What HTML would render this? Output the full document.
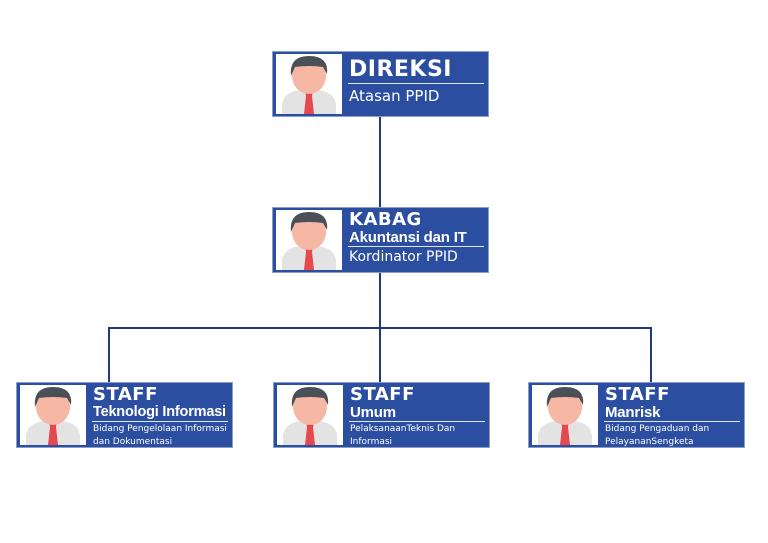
<!DOCTYPE html>
<html><head><style>
body{margin:0;width:768px;height:543px;background:#fff;position:relative;overflow:hidden;font-family:"DejaVu Sans","Liberation Sans",sans-serif}
.b{position:absolute;width:215px;height:64px;background:#2b4ea0;border:1px solid #8a9cc8;}
.ph{position:absolute;left:3px;top:2px;width:66px;height:60px;background:#fff}
.t{position:absolute;left:76px;color:#fff;white-space:nowrap}
.h{font-weight:bold;font-size:20px;top:3px;letter-spacing:0.5px}
.s{font-family:"Liberation Sans",sans-serif;font-weight:bold;font-size:15px;letter-spacing:-0.2px}
.ln{position:absolute;left:75px;right:4px;height:1px;background:#dfe6f5}
.l{position:absolute;background:#1e3a7a}
</style></head><body>
<svg width="0" height="0" style="position:absolute"><defs>
<symbol id="av" viewBox="0 0 66 60">
<path d="M6 60 L6 50 Q8 38 24 36 L42 36 Q58 38 60 50 L60 60Z" fill="#e3e3e3"/>
<path d="M29 37 L37 37 L36 42 L38 60 L28 60 L30 42Z" fill="#e5484d"/>
<ellipse cx="33" cy="22" rx="17" ry="18" fill="#f6b8a4"/>
<path d="M15 22 Q13 2 33 2 Q53 2 51 20 L47 13 Q33 11 19 13 Z" fill="#4a4f58"/>
</symbol></defs></svg>

<div class="l" style="left:379px;top:117px;width:2px;height:91px"></div>
<div class="l" style="left:379px;top:272px;width:2px;height:110px"></div>
<div class="l" style="left:108px;top:327px;width:544px;height:2px"></div>
<div class="l" style="left:108px;top:327px;width:2px;height:55px"></div>
<div class="l" style="left:650px;top:327px;width:2px;height:55px"></div>

<div class="b" style="left:272px;top:51px">
<svg class="ph" viewBox="0 0 66 60"><use href="#av"/></svg>
<div class="t h" style="top:5px;font-size:22px">DIREKSI</div><div class="ln" style="top:31px"></div>
<div class="t" style="top:35px;font-size:15px">Atasan PPID</div></div>

<div class="b" style="left:272px;top:207px">
<svg class="ph" viewBox="0 0 66 60"><use href="#av"/></svg>
<div class="t h" style="top:1px;font-size:18px">KABAG</div>
<div class="t s" style="top:21px">Akuntansi dan IT</div><div class="ln" style="top:38px"></div>
<div class="t" style="top:41px;font-size:14px">Kordinator PPID</div></div>

<div class="b" style="left:16px;top:382px">
<svg class="ph" viewBox="0 0 66 60"><use href="#av"/></svg>
<div class="t h" style="top:1px;font-size:18px">STAFF</div>
<div class="t s" style="top:21px;font-size:14.5px">Teknologi Informasi</div><div class="ln" style="top:38px"></div>
<div class="t" style="top:40px;font-size:9px;line-height:13px">Bidang Pengelolaan Informasi<br>dan Dokumentasi</div></div>

<div class="b" style="left:273px;top:382px">
<svg class="ph" viewBox="0 0 66 60"><use href="#av"/></svg>
<div class="t h" style="top:1px;font-size:18px">STAFF</div>
<div class="t s" style="top:21px">Umum</div><div class="ln" style="top:38px"></div>
<div class="t" style="top:40px;font-size:9px;line-height:13px">PelaksanaanTeknis Dan<br>Informasi</div></div>

<div class="b" style="left:528px;top:382px">
<svg class="ph" viewBox="0 0 66 60"><use href="#av"/></svg>
<div class="t h" style="top:1px;font-size:18px">STAFF</div>
<div class="t s" style="top:21px">Manrisk</div><div class="ln" style="top:38px"></div>
<div class="t" style="top:40px;font-size:9px;line-height:13px">Bidang Pengaduan dan<br>PelayananSengketa</div></div>
</body></html>
